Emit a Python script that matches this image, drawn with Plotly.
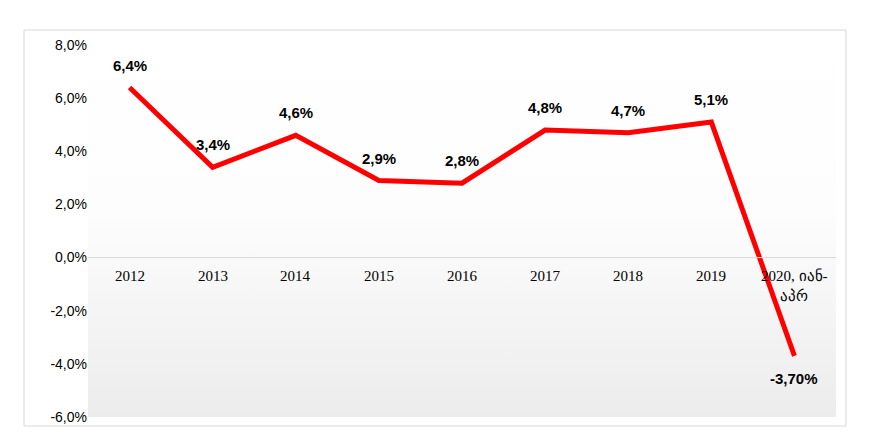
import plotly.graph_objects as go

categories = ["2012","2013","2014","2015","2016","2017","2018","2019","2020, იან-<br>აპრ"]
values = [6.4,3.4,4.6,2.9,2.8,4.8,4.7,5.1,-3.7]
labels = ["6,4%","3,4%","4,6%","2,9%","2,8%","4,8%","4,7%","5,1%","-3,70%"]
yticks = [8,6,4,2,0,-2,-4,-6]
ytick_text = ["8,0%","6,0%","4,0%","2,0%","0,0%","-2,0%","-4,0%","-6,0%"]

W,H = 860,430
ml,mr,mt,mb = 80,32,37,21
n = len(categories)
xs = list(range(n))

fig = go.Figure()
fig.add_trace(go.Scatter(x=[-0.5,n-0.5,n-0.5,-0.5,-0.5], y=[-6,-6,8,8,-6], fill="toself",
    mode="none", hoverinfo="skip", showlegend=False,
    fillgradient=dict(type="vertical", colorscale=[[0,"#ececec"],[0.55,"#fdfdfd"],[1,"#ffffff"]])))
fig.add_trace(go.Scatter(x=xs, y=values, mode="lines", line=dict(color="#ff0000", width=5),
    showlegend=False))

for i in xs:
    fig.add_shape(type="line", x0=i, x1=i, y0=0, y1=8, line=dict(color="#d9d9d9", width=1), layer="below")
    fig.add_annotation(x=i, y=0, text=categories[i], showarrow=False, yanchor="top", yshift=-8,
        font=dict(family="Liberation Serif", size=15, color="black"))
    up = values[i] >= 0
    fig.add_annotation(x=i, y=values[i], text="<b>"+labels[i]+"</b>", showarrow=False,
        yanchor="bottom" if up else "top", yshift=12 if up else -12,
        font=dict(family="Liberation Sans", size=15, color="black"))
fig.add_shape(type="line", x0=-0.5, x1=n-0.5, y0=0, y1=0, line=dict(color="#d9d9d9", width=1))
pw, ph = W-ml-mr, H-mt-mb
fig.add_shape(type="rect", xref="paper", yref="paper",
    x0=(16-ml)/pw, x1=(838-ml)/pw, y0=(H-mb-418)/ph, y1=(H-mb-22)/ph,
    line=dict(color="#d9d9d9", width=1))

fig.update_layout(width=W, height=H, margin=dict(l=ml,r=mr,t=mt,b=mb),
    paper_bgcolor="white", plot_bgcolor="white",
    xaxis=dict(range=[-0.5,n-0.5], showticklabels=False, showgrid=False, zeroline=False),
    yaxis=dict(range=[-6,8], tickvals=yticks, ticktext=ytick_text, showgrid=False, zeroline=False,
        tickfont=dict(family="Liberation Sans", size=14, color="black"), ticks="", ticklen=0))
fig.write_html("out.html")
